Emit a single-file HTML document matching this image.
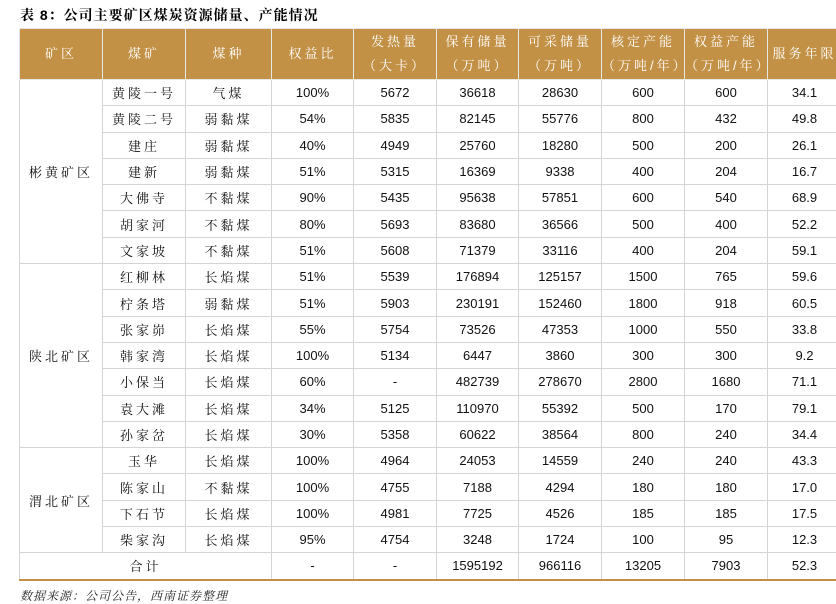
<!DOCTYPE html>
<html><head><meta charset="utf-8">
<style>
body{margin:0;width:836px;height:602px;overflow:hidden;background:#fff;position:relative;font-family:"Liberation Sans","Noto Sans CJK SC",sans-serif;}
#title{position:absolute;left:20px;top:5px;font-size:14px;font-weight:bold;letter-spacing:1px;font-family:"Liberation Sans","Noto Serif CJK SC",serif;}
#tbl{position:absolute;left:19px;top:28px;border-collapse:collapse;table-layout:fixed;width:822px;}
#tbl td,#tbl th{border:1.5px solid #d4d4d4;text-align:center;padding:0;font-size:13px;color:#111;}
#tbl th{background:#c39145;color:#fff;font-weight:normal;height:50px;border-color:#e6e6e6;letter-spacing:3px;line-height:24px;font-family:"Liberation Sans","Noto Serif CJK SC",serif;}
#tbl td{height:25.3px;}
#tbl td.c{letter-spacing:3px;font-family:"Liberation Sans","Noto Serif CJK SC",serif;}
#tbl tr.total td{border-bottom:2px solid #c39145;}
#src{position:absolute;left:20px;top:587px;font-size:12px;font-style:italic;color:#222;letter-spacing:1px;font-family:"Liberation Sans","Noto Serif CJK SC",serif;}
</style></head><body>
<div id="title">表 8：公司主要矿区煤炭资源储量、产能情况</div>
<table id="tbl">
<colgroup><col style="width:83px"><col style="width:83px"><col style="width:86px"><col style="width:82px"><col style="width:83px"><col style="width:82px"><col style="width:83px"><col style="width:83px"><col style="width:83px"><col style="width:74px"></colgroup>
<tr>
<th>矿区</th><th>煤矿</th><th>煤种</th><th>权益比</th><th>发热量<br>（大卡）</th><th>保有储量<br>（万吨）</th><th>可采储量<br>（万吨）</th><th>核定产能<br>（万吨/年）</th><th>权益产能<br>（万吨/年）</th><th>服务年限</th>
</tr>
<tr><td class="c" rowspan="7">彬黄矿区</td><td class="c">黄陵一号</td><td class="c">气煤</td><td>100%</td><td>5672</td><td>36618</td><td>28630</td><td>600</td><td>600</td><td>34.1</td></tr>
<tr><td class="c">黄陵二号</td><td class="c">弱黏煤</td><td>54%</td><td>5835</td><td>82145</td><td>55776</td><td>800</td><td>432</td><td>49.8</td></tr>
<tr><td class="c">建庄</td><td class="c">弱黏煤</td><td>40%</td><td>4949</td><td>25760</td><td>18280</td><td>500</td><td>200</td><td>26.1</td></tr>
<tr><td class="c">建新</td><td class="c">弱黏煤</td><td>51%</td><td>5315</td><td>16369</td><td>9338</td><td>400</td><td>204</td><td>16.7</td></tr>
<tr><td class="c">大佛寺</td><td class="c">不黏煤</td><td>90%</td><td>5435</td><td>95638</td><td>57851</td><td>600</td><td>540</td><td>68.9</td></tr>
<tr><td class="c">胡家河</td><td class="c">不黏煤</td><td>80%</td><td>5693</td><td>83680</td><td>36566</td><td>500</td><td>400</td><td>52.2</td></tr>
<tr><td class="c">文家坡</td><td class="c">不黏煤</td><td>51%</td><td>5608</td><td>71379</td><td>33116</td><td>400</td><td>204</td><td>59.1</td></tr>
<tr><td class="c" rowspan="7">陕北矿区</td><td class="c">红柳林</td><td class="c">长焰煤</td><td>51%</td><td>5539</td><td>176894</td><td>125157</td><td>1500</td><td>765</td><td>59.6</td></tr>
<tr><td class="c">柠条塔</td><td class="c">弱黏煤</td><td>51%</td><td>5903</td><td>230191</td><td>152460</td><td>1800</td><td>918</td><td>60.5</td></tr>
<tr><td class="c">张家峁</td><td class="c">长焰煤</td><td>55%</td><td>5754</td><td>73526</td><td>47353</td><td>1000</td><td>550</td><td>33.8</td></tr>
<tr><td class="c">韩家湾</td><td class="c">长焰煤</td><td>100%</td><td>5134</td><td>6447</td><td>3860</td><td>300</td><td>300</td><td>9.2</td></tr>
<tr><td class="c">小保当</td><td class="c">长焰煤</td><td>60%</td><td>-</td><td>482739</td><td>278670</td><td>2800</td><td>1680</td><td>71.1</td></tr>
<tr><td class="c">袁大滩</td><td class="c">长焰煤</td><td>34%</td><td>5125</td><td>110970</td><td>55392</td><td>500</td><td>170</td><td>79.1</td></tr>
<tr><td class="c">孙家岔</td><td class="c">长焰煤</td><td>30%</td><td>5358</td><td>60622</td><td>38564</td><td>800</td><td>240</td><td>34.4</td></tr>
<tr><td class="c" rowspan="4">渭北矿区</td><td class="c">玉华</td><td class="c">长焰煤</td><td>100%</td><td>4964</td><td>24053</td><td>14559</td><td>240</td><td>240</td><td>43.3</td></tr>
<tr><td class="c">陈家山</td><td class="c">不黏煤</td><td>100%</td><td>4755</td><td>7188</td><td>4294</td><td>180</td><td>180</td><td>17.0</td></tr>
<tr><td class="c">下石节</td><td class="c">长焰煤</td><td>100%</td><td>4981</td><td>7725</td><td>4526</td><td>185</td><td>185</td><td>17.5</td></tr>
<tr><td class="c">柴家沟</td><td class="c">长焰煤</td><td>95%</td><td>4754</td><td>3248</td><td>1724</td><td>100</td><td>95</td><td>12.3</td></tr>
<tr class="total"><td class="c" colspan="3">合计</td><td>-</td><td>-</td><td>1595192</td><td>966116</td><td>13205</td><td>7903</td><td>52.3</td></tr>
</table>
<div id="src">数据来源：公司公告，西南证券整理</div>
</body></html>
